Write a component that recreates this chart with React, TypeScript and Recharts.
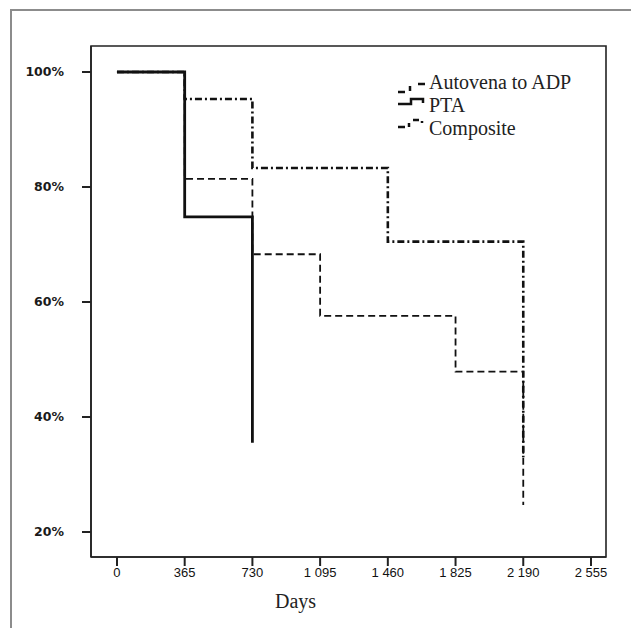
import React from "react";
import { LineChart, Line, XAxis, YAxis, ReferenceArea } from "recharts";

// survival estimates (days, % patency)
const autovenaDays = [0, 365, 730, 1460, 2190];
const autovenaPct = [100, 95.3, 83.3, 70.5, 33];

const ptaDays = [0, 365, 730];
const ptaPct = [100, 74.8, 35.5];

const compositeDays = [0, 365, 730, 1095, 1825, 2190];
const compositePct = [100, 81.4, 68.3, 57.6, 47.9, 24.7];

const dayTicks = [0, 365, 730, 1095, 1460, 1825, 2190, 2555];
const pctTicks = [20, 40, 60, 80, 100];

const legendNames = ["Autovena to ADP", "PTA", "Composite"];

const toRows = (days: number[], pct: number[]) =>
  days.map((t, i) => ({ t, v: pct[i] }));

const autovena = toRows(autovenaDays, autovenaPct);
const pta = toRows(ptaDays, ptaPct);
const composite = toRows(compositeDays, compositePct);

function formatDays(v: number) {
  if (v < 1000) return String(v);
  return `${Math.floor(v / 1000)} ${String(v % 1000).padStart(3, "0")}`;
}

const serif = "'Liberation Serif', 'DejaVu Serif', serif";

// the odd little glyphs the original uses in its key
function KeyBox() {
  const baselines = [19, 42, 65];
  return (
    <svg
      width={200}
      height={78}
      style={{ position: "absolute", left: 395, top: 70, overflow: "visible" }}
    >
      <g stroke="#111" strokeWidth={2.5} fill="none">
        <path d="M3 22 h7 M15 16 v5 M23 14 h7" />
        <path d="M3 34 H16 V29 H28 V33" />
        <path d="M3 57 h7 M14 53 v4 M18 50 h6 M27 51 v2" />
      </g>
      {legendNames.map((name, i) => (
        <text
          key={name}
          x={34}
          y={baselines[i]}
          fontFamily={serif}
          fontSize={20}
          fill="#222"
        >
          {name}
        </text>
      ))}
    </svg>
  );
}

export default function App() {
  return (
    <div
      style={{
        position: "absolute",
        left: 0,
        top: 0,
        width: 631,
        height: 628,
        background: "#fff",
        overflow: "hidden",
      }}
    >
      <div
        style={{
          position: "absolute",
          left: 10,
          top: 9,
          width: 660,
          height: 660,
          borderLeft: "2px solid #8c8c8c",
          borderTop: "2px solid #8c8c8c",
        }}
      />
      <div style={{ position: "absolute", left: 0, top: 0 }}>
        <LineChart
          width={631}
          height={628}
          margin={{ top: 46, right: 25, bottom: 16, left: 11 }}
        >
          <XAxis
            dataKey="t"
            type="number"
            domain={[-140, 2636]}
            allowDataOverflow
            ticks={dayTicks}
            tickFormatter={formatDays}
            tickSize={9}
            tickMargin={2}
            height={55}
            axisLine={{ stroke: "#222", strokeWidth: 1.6 }}
            tickLine={{ stroke: "#222", strokeWidth: 2 }}
            tick={{ fill: "#111", fontSize: 13, fontFamily: "'Liberation Sans', Arial, sans-serif" }}
            label={{
              value: "Days",
              position: "insideBottom",
              offset: 4,
              dx: -53,
              style: { fontFamily: serif, fontSize: 20, fill: "#222" },
            }}
          />
          <YAxis
            type="number"
            domain={[15.65, 104.52]}
            allowDataOverflow
            ticks={pctTicks}
            tickFormatter={(v: number) => `${v}%`}
            width={80}
            tickSize={9}
            tickMargin={18}
            axisLine={{ stroke: "#222", strokeWidth: 1.6 }}
            tickLine={{ stroke: "#222", strokeWidth: 2 }}
            tick={{
              fill: "#1a1a1a",
              fontSize: 12.5,
              fontWeight: "bold",
              fontFamily: "'DejaVu Sans', Verdana, sans-serif",
            }}
          />
          <ReferenceArea
            x1={-140}
            x2={2636}
            y1={15.65}
            y2={104.52}
            fill="none"
            fillOpacity={0}
            stroke="#222"
            strokeWidth={1.6}
            ifOverflow="visible"
          />
          <Line
            data={composite}
            dataKey="v"
            name="Composite"
            type="stepAfter"
            stroke="#111"
            strokeWidth={1.8}
            strokeDasharray="7 4"
            dot={false}
            activeDot={false}
            isAnimationActive={false}
          />
          <Line
            data={autovena}
            dataKey="v"
            name="Autovena to ADP"
            type="stepAfter"
            stroke="#111"
            strokeWidth={2.6}
            strokeDasharray="7 3 2 3"
            dot={false}
            activeDot={false}
            isAnimationActive={false}
          />
          <Line
            data={pta}
            dataKey="v"
            name="PTA"
            type="stepAfter"
            stroke="#111"
            strokeWidth={2.8}
            dot={false}
            activeDot={false}
            isAnimationActive={false}
          />
        </LineChart>
      </div>
      <KeyBox />
    </div>
  );
}
